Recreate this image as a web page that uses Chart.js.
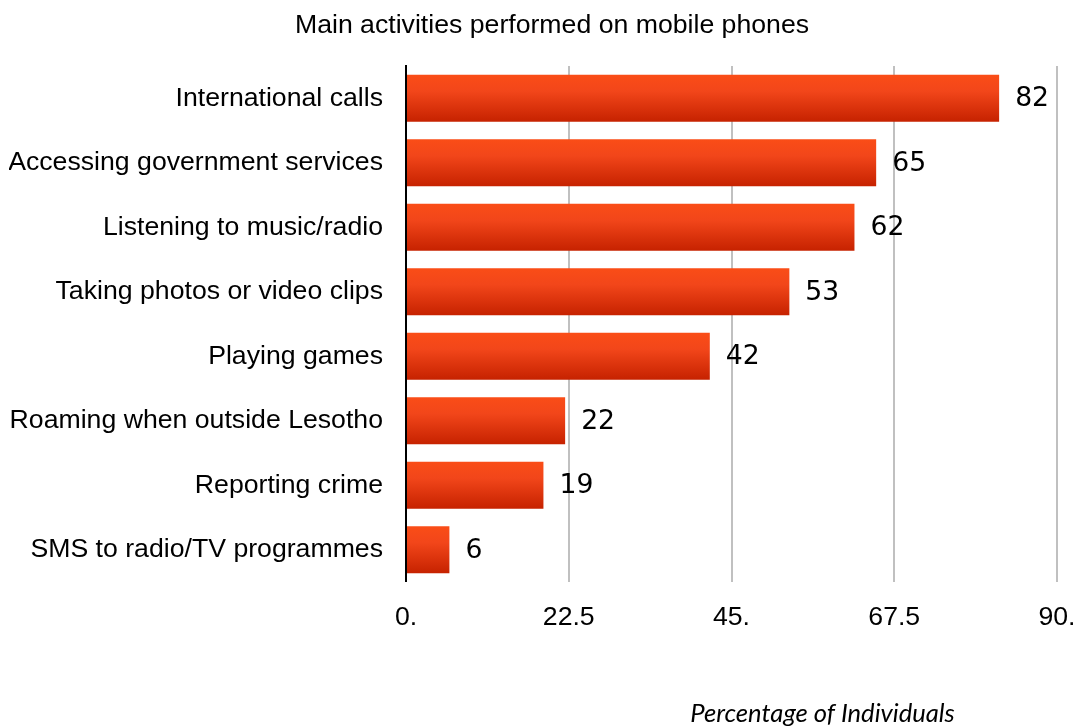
<!DOCTYPE html>
<html>
<head>
<meta charset="utf-8">
<title>Main activities performed on mobile phones</title>
<script src="https://cdn.jsdelivr.net/npm/chart.js@4/dist/chart.umd.min.js"></script>
<style>
  html, body { margin: 0; padding: 0; background: #fff; }
  #wrap { width: 1077px; height: 728px; }
</style>
</head>
<body>
<div id="wrap"><canvas id="activityChart" width="1077" height="728"></canvas></div>
<script>
// Activities, ordered top to bottom as shown
const activities = [
  'International calls',
  'Accessing government services',
  'Listening to music/radio',
  'Taking photos or video clips',
  'Playing games',
  'Roaming when outside Lesotho',
  'Reporting crime',
  'SMS to radio/TV programmes'
];
const shares = [82, 65, 62, 53, 42, 22, 19, 6];
const xTickLabels = ['0.', '22.5', '45.', '67.5', '90.'];
const xTickValues = [0, 22.5, 45, 67.5, 90];

const BAR_PCT = 0.73;
const FONT_PX = 26.67;
const PAD_LEFT = 9;
const PLOT_LEFT = 406;

// vertical orange-red gradient for each bar
function barFill(context) {
  const chart = context.chart;
  const y = chart.scales.y;
  if (!chart.chartArea || !y) return '#e83c0e';
  const center = y.getPixelForValue(context.dataIndex);
  const half = (chart.chartArea.height / activities.length) * BAR_PCT / 2;
  const g = chart.ctx.createLinearGradient(0, center - half, 0, center + half);
  g.addColorStop(0, '#fa4d17');
  g.addColorStop(0.35, '#f2461a');
  g.addColorStop(1, '#c62200');
  return g;
}

// numbers at the end of each bar
const valueLabels = {
  id: 'valueLabels',
  afterDatasetsDraw(chart) {
    const { ctx } = chart;
    const meta = chart.getDatasetMeta(0);
    ctx.save();
    ctx.font = FONT_PX + 'px "DejaVu Sans"';
    ctx.fillStyle = '#000';
    ctx.textBaseline = 'middle';
    ctx.textAlign = 'left';
    meta.data.forEach((bar, i) => {
      ctx.fillText(String(shares[i]), bar.x + 16, bar.y + 1);
    });
    ctx.restore();
  }
};

// heading and axis caption, both placed off-centre
const captions = {
  id: 'captions',
  afterDraw(chart) {
    const { ctx, chartArea } = chart;
    ctx.save();
    ctx.fillStyle = '#000';
    ctx.textAlign = 'center';
    ctx.textBaseline = 'middle';
    ctx.font = FONT_PX + 'px "Liberation Sans"';
    ctx.fillText('Main activities performed on mobile phones', 552, 26);
    ctx.font = 'italic 25.6px Lato';
    ctx.fillText('Percentage of Individuals', chartArea.left + 416.5, 714);
    ctx.restore();
  }
};

new Chart(document.getElementById('activityChart'), {
  type: 'bar',
  data: {
    labels: activities,
    datasets: [{
      data: shares,
      backgroundColor: barFill,
      borderWidth: 0,
      barPercentage: BAR_PCT,
      categoryPercentage: 1
    }]
  },
  options: {
    indexAxis: 'y',
    responsive: false,
    animation: false,
    layout: { padding: { left: PAD_LEFT, right: 20, top: 66, bottom: 74 } },
    plugins: {
      legend: { display: false },
      tooltip: { enabled: false },
      title: { display: false }
    },
    scales: {
      x: {
        min: 0,
        max: 90,
        afterBuildTicks(scale) {
          scale.ticks = xTickValues.map(v => ({ value: v }));
        },
        afterFit(scale) {
          // keep the end labels from pushing the plot inward
          scale.paddingLeft = 0;
          scale.paddingRight = 0;
        },
        ticks: {
          color: '#000',
          padding: 20,
          font: { family: 'Liberation Sans', size: FONT_PX },
          callback: (v, i) => xTickLabels[i]
        },
        grid: { color: '#c0c0c0', lineWidth: 2, drawTicks: false },
        border: { display: false }
      },
      y: {
        afterFit(scale) {
          scale.width = PLOT_LEFT - PAD_LEFT;
        },
        ticks: {
          color: '#000',
          padding: 23,
          font: { family: 'Liberation Sans', size: FONT_PX }
        },
        grid: { display: false, drawTicks: false },
        border: { display: true, color: '#000', width: 2 }
      }
    }
  },
  plugins: [valueLabels, captions]
});
</script>
</body>
</html>
